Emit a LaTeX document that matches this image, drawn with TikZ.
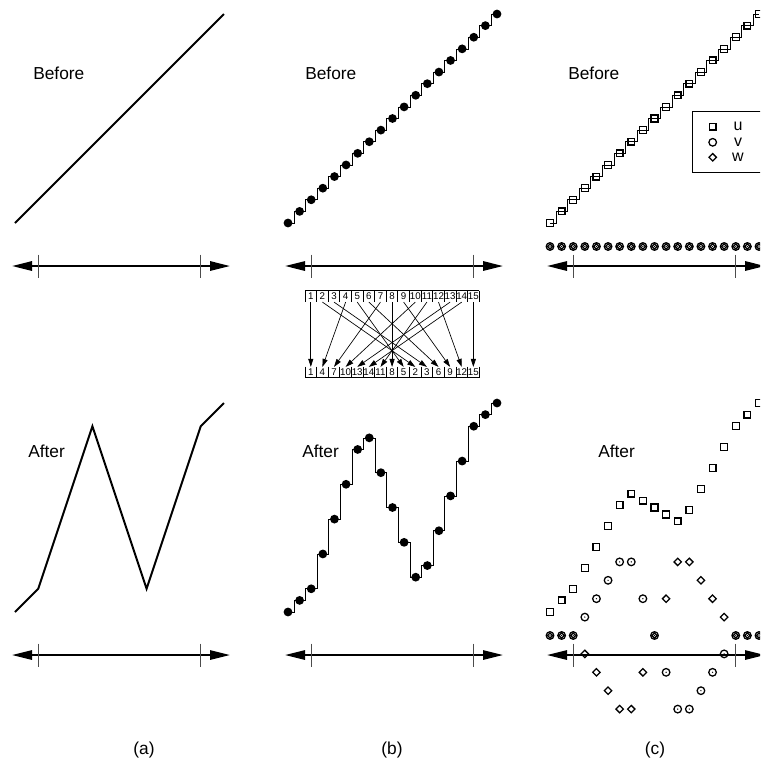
\documentclass[tikz,border=0pt]{standalone}
\usepackage{fontspec}
\setmainfont{Liberation Sans}
\usetikzlibrary{arrows.meta}
\def\h{11.61}
\newcommand\mystairs[3]{%
  \foreach \v [count=\i from 0, remember=\v as \pv (initially 0)] in {#3} {%
    \ifnum\i>0
      \draw[stair] ({#1+(\i-1)*\h},{#2-\h*(\pv+1)}) -- ++({\h/2},0) |- ({#1+\i*\h},{#2-\h*(\v+1)});
    \fi
  }%
}
\newcommand\mydots[3]{%
  \foreach \v [count=\i from 0] in {#3} {%
    \fill ({#1+\i*\h},{#2-\h*(\v+1)}) circle[radius=4.4];
  }%
}
\newcommand\myaxis[2]{% x0, y
  \draw[axisline] ({#1-3},#2) -- ({#1+215},#2);
  \draw[tickline] ({#1+2*\h},{#2-11.5}) -- ++(0,23);
  \draw[tickline] ({#1+16*\h},{#2-11.5}) -- ++(0,23);
}
\newcommand\sqmark[2]{\draw[mk] ({#1-3.4},{#2-3.4}) rectangle ({#1+3.4},{#2+3.4});}
\newcommand\cimark[2]{\draw[mk] (#1,#2) circle[radius=3.8];}
\newcommand\cidmark[2]{\draw[mk] (#1,#2) circle[radius=3.8]; \fill (#1,#2) circle[radius=0.7];}
\newcommand\dimark[2]{\draw[mk] (#1,{#2-3.7}) -- ({#1+3.7},#2) -- (#1,{#2+3.7}) -- ({#1-3.7},#2) -- cycle;}
\newcommand\dismark[2]{\draw[mk] (#1,{#2-2.6}) -- ({#1+2.6},#2) -- (#1,{#2+2.6}) -- ({#1-2.6},#2) -- cycle;}
\begin{document}
\begin{tikzpicture}[x=0.75pt,y=-0.75pt,
  lbl/.style={font=\fontsize{13}{15}\selectfont, inner sep=0pt},
  leg/.style={font=\fontsize{12}{14}\selectfont, inner sep=0pt},
  axisline/.style={line width=1.4pt, {Triangle[length=15pt,width=7pt]}-{Triangle[length=15pt,width=7pt]}},
  tickline/.style={line width=0.8pt, black!70},
  curve/.style={line width=1.5pt, line join=miter},
  stair/.style={line width=0.45pt},
  mk/.style={line width=0.95pt},
  cell/.style={inner sep=0pt, minimum width=8.7pt, minimum height=8pt, font=\fontsize{7.3}{8}\selectfont},
  parr/.style={line width=0.5pt, -{Triangle[length=6pt,width=3.8pt]}},
  cellline/.style={line width=0.6pt}]
\clip (0,0) rectangle (760,767);
% ---------------- panel (a)
\node[lbl, anchor=west] (beforeA) at (33,73) {Before};
\draw[curve] (15,223) -- ({15+18*\h},{223-18*\h});
\myaxis{15}{266}
\node[lbl, anchor=west] (afterA) at (28,451) {After};
\draw[curve] (15,{612}) -- ({15+2*\h},{612-2*\h}) -- ({15+6.667*\h},{612-16*\h})
   -- ({15+11.333*\h},{612-2*\h}) -- ({15+16*\h},{612-16*\h}) -- ({15+18*\h},{612-18*\h});
\myaxis{15}{655}
% ---------------- panel (b)
\node[lbl, anchor=west] (beforeB) at (305,73) {Before};
\mystairs{288}{223}{-1,0,1,2,3,4,5,6,7,8,9,10,11,12,13,14,15,16,17}
\mydots{288}{223}{-1,0,1,2,3,4,5,6,7,8,9,10,11,12,13,14,15,16,17}
\myaxis{288}{266}
\node[lbl, anchor=west] (afterB) at (302,451) {After};
\mystairs{288}{612}{-1,0,1,4,7,10,13,14,11,8,5,2,3,6,9,12,15,16,17}
\mydots{288}{612}{-1,0,1,4,7,10,13,14,11,8,5,2,3,6,9,12,15,16,17}
\myaxis{288}{655}
% permutation
\foreach \n [count=\j] in {1,...,15}
  \node[cell] (t\j) at ({305+\h*(\j-0.5)},296.5) {\n};
\foreach \n [count=\k] in {1,4,7,10,13,14,11,8,5,2,3,6,9,12,15}
  \node[cell] (b\k) at ({305+\h*(\k-0.5)},372.5) {\n};
\draw[cellline] (305,290.5) -- ({305+15*\h},290.5);
\foreach \k in {0,...,15} \draw[cellline] ({305+\k*\h},290.5) -- ++(0,11.5);
\draw[cellline] (305,377.5) -- ({305+15*\h},377.5);
\foreach \k in {0,...,15} \draw[cellline] ({305+\k*\h},366.5) -- ({305+\k*\h},377.5);
\foreach \j/\k in {1/1,2/10,3/11,4/2,5/9,6/12,7/3,8/8,9/13,10/4,11/7,12/14,13/5,14/6,15/15}
  \draw[parr] (t\j.south) -- (b\k.north);
% ---------------- panel (c)
\node[lbl, anchor=west] (beforeC) at (568,73) {Before};
\mystairs{550}{223}{-1,0,1,2,3,4,5,6,7,8,9,10,11,12,13,14,15,16,17}
\foreach \i in {0,...,18} {
  \pgfmathsetmacro\mxx{550+\i*\h}
  \pgfmathsetmacro\myy{223-\h*\i}
  \sqmark{\mxx}{\myy}
  \cidmark{\mxx}{246.5}
  \dismark{\mxx}{246.5}
}
\myaxis{550}{266}
\draw[line width=0.6pt] (692,111) rectangle (790,172);
\sqmark{712.7}{126.7}
\cimark{712.7}{142.3}
\dimark{712.7}{157.3}
\node[leg] (legu) at (738,126.7) {u};
\node[leg] (legv) at (738,142.3) {v};
\node[leg] (legw) at (738,157.3) {w};
\node[lbl, anchor=west] (afterC) at (598,451) {After};
\myaxis{550}{655}
\foreach \d [count=\i from 0] in {0,0,0,2,4,6,8,8,4,0,-4,-8,-8,-6,-4,-2,0,0,0} {
  \pgfmathsetmacro\mxx{550+\i*\h}
  \pgfmathsetmacro\mvv{635.5-9.2*\d}
  \pgfmathsetmacro\mww{635.5+9.2*\d}
  \pgfmathsetmacro\muu{612-\h*(\i+0.4*\d)}
  \cidmark{\mxx}{\mvv}
  \ifnum\d=0 \dismark{\mxx}{\mww}\else \dimark{\mxx}{\mww}\fi
  \sqmark{\mxx}{\muu}
}
% ---------------- captions
\node[lbl] (capa) at (144,750) {(a)};
\node[lbl] (capb) at (392,750) {(b)};
\node[lbl] (capc) at (655,750) {(c)};
\end{tikzpicture}
\end{document}
